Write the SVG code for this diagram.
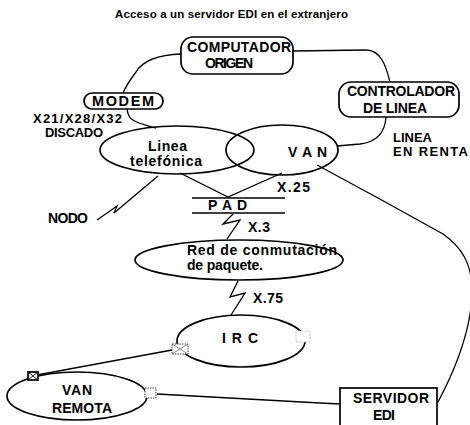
<svg xmlns="http://www.w3.org/2000/svg" width="470" height="425" viewBox="0 0 470 425">
<style>
text{font-family:"Liberation Sans",Arial,sans-serif;font-weight:bold;fill:#000}
.t{font-size:11.5px}
.l{font-size:14px}
.b{font-size:14px}
.m{font-size:13px}
.s{fill:none;stroke:#000;stroke-width:1.7}
.w{fill:#fff;stroke:#000;stroke-width:1.7}
.c{fill:none;stroke:#000;stroke-width:1.3}
.q{fill:#fff;stroke:#444;stroke-width:1;stroke-dasharray:1.5 1}
.qf{fill:#fff;stroke:#bbb;stroke-width:1;stroke-dasharray:1.5 1}
</style>
<rect width="470" height="425" fill="#fff"/>
<text class="t" x="115" y="18" textLength="233">Acceso a un servidor EDI en el extranjero</text>

<g id="connectors">
<path class="c" d="M181,54 C155,55 142,62 136,72 C130,80 126,86 123,93"/>
<path class="c" d="M293,51 L366,50 C381,50 386,66 390,82"/>
<path class="c" d="M127,109 C128,117 131,120 139,123 C146,125 151,127 156,128"/>
<path class="c" d="M337,146 L360,144 C378,142 385,132 386,117"/>
<path class="c" d="M180,173 L228,197 L282,173"/>
<path class="c" d="M97,220 L117,206 L114,213 L158,176"/>
<path class="c" d="M233,214 L223,224 L240,220 L227,239"/>
<path class="c" d="M238,281 L230,297 L245,293 L231,315"/>
<path class="c" d="M317,165 L378,198 L443,234 C460,246 472,262 472,290 C472,330 455,370 438,402"/>
<path class="c" d="M172,350 L37,375"/>
<path class="c" d="M157,394 L320,403 L340,404"/>
<line class="c" x1="192" y1="198" x2="285" y2="198"/>
<line class="c" x1="192" y1="213" x2="285" y2="213"/>
</g>

<g id="computador">
<rect class="w" x="181" y="37" width="112" height="37" rx="12"/>
<text class="b" x="187" y="52" textLength="104">COMPUTADOR</text>
<text class="b" x="205" y="68" textLength="48">ORIGEN</text>
</g>
<g id="modem">
<rect class="w" x="84" y="93" width="79" height="16" rx="8"/>
<text x="92" y="106" font-size="14.5" textLength="62">MODEM</text>
</g>
<g id="controlador">
<rect class="w" x="339" y="82" width="120" height="35" rx="12"/>
<text class="b" x="347" y="96" textLength="108">CONTROLADOR</text>
<text class="b" x="363" y="113" textLength="64">DE LINEA</text>
</g>
<g id="linea">
<ellipse class="s" cx="177" cy="150" rx="77" ry="24"/>
<text class="l" x="148" y="151" textLength="39">Linea</text>
<text class="l" x="130" y="166" textLength="72">telefónica</text>
</g>
<g id="van">
<ellipse class="s" cx="282" cy="150" rx="56" ry="25"/>
<text class="l" x="288" y="157" textLength="39">V A N</text>
</g>
<g id="pad">
<text class="l" x="208" y="210" textLength="39">P A D</text>
</g>
<g id="red">
<ellipse class="w" cx="239" cy="260" rx="104" ry="20"/>
<text class="l" x="187" y="255" textLength="150">Red de conmutación</text>
<text class="l" x="187" y="270" textLength="76">de paquete.</text>
</g>
<g id="irc">
<ellipse class="w" cx="241" cy="341" rx="64" ry="26"/>
<text class="l" x="222" y="343" textLength="36">I R C</text>
<rect class="q" x="172" y="344" width="16" height="10"/>
<path d="M172,344 L188,354 M188,344 L172,354" stroke="#666" stroke-width="0.8"/>
<rect class="qf" x="296" y="331" width="14" height="11"/>
</g>
<g id="van-remota">
<ellipse class="w" cx="77" cy="396" rx="70" ry="24"/>
<text class="l" x="62" y="395" textLength="30">VAN</text>
<text class="l" x="52" y="413" textLength="60">REMOTA</text>
<rect class="w" x="28" y="372" width="10" height="8" stroke-width="1"/>
<path d="M28,372 L38,380 M38,372 L28,380" stroke="#000" stroke-width="0.8"/>
<rect class="q" x="145" y="388" width="11" height="10"/>
</g>
<g id="servidor">
<rect class="w" x="340" y="388" width="97" height="40"/>
<text class="l" x="353" y="403" textLength="76">SERVIDOR</text>
<text class="l" x="373" y="420" textLength="22">EDI</text>
</g>

<g id="labels">
<text class="m" x="33" y="123" textLength="89">X21/X28/X32</text>
<text class="m" x="45" y="137" textLength="58">DISCADO</text>
<text class="m" x="393" y="142" textLength="39">LINEA</text>
<text class="m" x="393" y="156" textLength="75">EN RENTA</text>
<text class="l" x="277" y="192" textLength="33">X.25</text>
<text class="l" x="48" y="223" textLength="40">NODO</text>
<text class="l" x="248" y="232" textLength="22">X.3</text>
<text class="l" x="253" y="303" textLength="30">X.75</text>
</g>
</svg>
